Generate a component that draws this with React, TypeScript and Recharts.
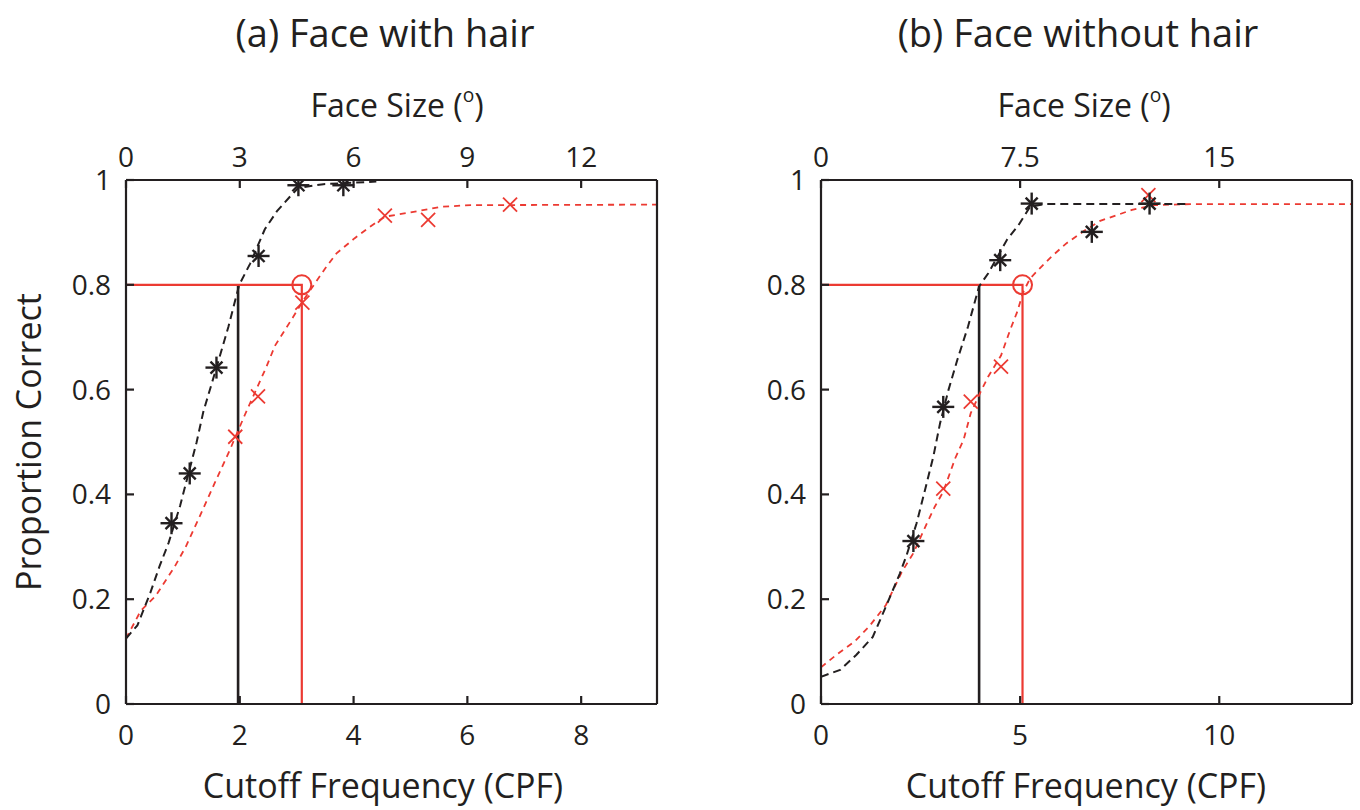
import React from 'react';
import { ComposedChart, Line, Scatter, XAxis, YAxis } from 'recharts';

const INK = '#231f20';
const RED = '#ec3a32';
const FONT = '"Open Sans", "Noto Sans", sans-serif';

// shared y axis
const yTicks = [0, 0.2, 0.4, 0.6, 0.8, 1];

// ---------- Panel (a) Face with hair ----------
const hairCpfTicks = [0, 2, 4, 6, 8];
const hairCpfMax = 9.333;
const hairFaceTicks = [0, 3, 6, 9, 12];
const hairFaceMax = 14;

const hairBlackPoints = [
  { x: 0.8, y: 0.345 },
  { x: 1.12, y: 0.44 },
  { x: 1.59, y: 0.642 },
  { x: 2.33, y: 0.855 },
  { x: 3.03, y: 0.99 },
  { x: 3.82, y: 0.99 },
];
const hairRedPoints = [
  { x: 1.92, y: 0.51 },
  { x: 2.32, y: 0.587 },
  { x: 3.1, y: 0.766 },
  { x: 4.55, y: 0.932 },
  { x: 5.31, y: 0.924 },
  { x: 6.75, y: 0.953 },
];
const hairBlackFit = [
  { x: 0, y: 0.125 },
  { x: 0.2, y: 0.15 },
  { x: 0.43, y: 0.213 },
  { x: 0.59, y: 0.263 },
  { x: 0.75, y: 0.308 },
  { x: 0.95, y: 0.378 },
  { x: 1.24, y: 0.499 },
  { x: 1.36, y: 0.558 },
  { x: 1.59, y: 0.642 },
  { x: 1.8, y: 0.72 },
  { x: 1.99, y: 0.8 },
  { x: 2.18, y: 0.84 },
  { x: 2.44, y: 0.906 },
  { x: 2.65, y: 0.94 },
  { x: 2.88, y: 0.968 },
  { x: 3.03, y: 0.985 },
  { x: 3.47, y: 0.992 },
  { x: 4.4, y: 0.997 },
];
const hairRedFit = [
  { x: 0, y: 0.125 },
  { x: 0.26, y: 0.178 },
  { x: 0.52, y: 0.206 },
  { x: 0.85, y: 0.261 },
  { x: 1.05, y: 0.3 },
  { x: 1.3, y: 0.359 },
  { x: 1.56, y: 0.422 },
  { x: 1.83, y: 0.486 },
  { x: 2.09, y: 0.552 },
  { x: 2.47, y: 0.644 },
  { x: 2.62, y: 0.684 },
  { x: 2.94, y: 0.739 },
  { x: 3.12, y: 0.771 },
  { x: 3.5, y: 0.831 },
  { x: 3.7, y: 0.86 },
  { x: 4.02, y: 0.889 },
  { x: 4.29, y: 0.911 },
  { x: 4.55, y: 0.93 },
  { x: 4.94, y: 0.937 },
  { x: 5.54, y: 0.949 },
  { x: 6.06, y: 0.952 },
  { x: 9.333, y: 0.953 },
];
const hairBlackThreshold = [
  { x: 1.97, y: 0 },
  { x: 1.97, y: 0.8 },
];
const hairRedThreshold = [
  { x: 0, y: 0.8 },
  { x: 3.09, y: 0.8 },
  { x: 3.09, y: 0 },
];
const hairRedCircle = [{ x: 3.09, y: 0.8 }];

// ---------- Panel (b) Face without hair ----------
const noHairCpfTicks = [0, 5, 10];
const noHairCpfMax = 13.333;
const noHairFaceTicks = [0, 7.5, 15];
const noHairFaceMax = 20;

const noHairBlackPoints = [
  { x: 2.32, y: 0.311 },
  { x: 3.07, y: 0.567 },
  { x: 4.5, y: 0.847 },
  { x: 5.29, y: 0.955 },
  { x: 6.8, y: 0.901 },
  { x: 8.25, y: 0.955 },
];
const noHairRedPoints = [
  { x: 3.07, y: 0.411 },
  { x: 3.76, y: 0.577 },
  { x: 4.52, y: 0.644 },
  { x: 8.22, y: 0.971 },
];
const noHairBlackFit = [
  { x: 0, y: 0.052 },
  { x: 0.48, y: 0.065 },
  { x: 0.89, y: 0.094 },
  { x: 1.3, y: 0.128 },
  { x: 1.63, y: 0.186 },
  { x: 1.98, y: 0.249 },
  { x: 2.15, y: 0.284 },
  { x: 2.4, y: 0.345 },
  { x: 2.61, y: 0.408 },
  { x: 2.82, y: 0.472 },
  { x: 2.99, y: 0.536 },
  { x: 3.2, y: 0.599 },
  { x: 3.42, y: 0.656 },
  { x: 3.69, y: 0.72 },
  { x: 3.97, y: 0.797 },
  { x: 4.2, y: 0.822 },
  { x: 4.67, y: 0.886 },
  { x: 4.96, y: 0.914 },
  { x: 5.25, y: 0.949 },
  { x: 5.6, y: 0.954 },
  { x: 9.2, y: 0.954 },
];
const noHairRedFit = [
  { x: 0, y: 0.07 },
  { x: 0.39, y: 0.094 },
  { x: 0.84, y: 0.119 },
  { x: 1.21, y: 0.148 },
  { x: 1.63, y: 0.189 },
  { x: 2.03, y: 0.252 },
  { x: 2.32, y: 0.288 },
  { x: 2.66, y: 0.345 },
  { x: 2.86, y: 0.377 },
  { x: 3.07, y: 0.405 },
  { x: 3.37, y: 0.469 },
  { x: 3.58, y: 0.504 },
  { x: 3.76, y: 0.555 },
  { x: 3.99, y: 0.593 },
  { x: 4.2, y: 0.625 },
  { x: 4.52, y: 0.665 },
  { x: 4.75, y: 0.714 },
  { x: 4.93, y: 0.749 },
  { x: 5.07, y: 0.785 },
  { x: 5.25, y: 0.812 },
  { x: 5.5, y: 0.832 },
  { x: 5.79, y: 0.854 },
  { x: 6.16, y: 0.879 },
  { x: 6.59, y: 0.902 },
  { x: 7.01, y: 0.922 },
  { x: 7.43, y: 0.933 },
  { x: 7.81, y: 0.943 },
  { x: 8.36, y: 0.952 },
  { x: 9.28, y: 0.954 },
  { x: 13.333, y: 0.954 },
];
const noHairBlackThreshold = [
  { x: 3.97, y: 0 },
  { x: 3.97, y: 0.8 },
];
const noHairRedThreshold = [
  { x: 0, y: 0.8 },
  { x: 5.06, y: 0.8 },
  { x: 5.06, y: 0 },
];
const noHairRedCircle = [{ x: 5.06, y: 0.8 }];

// ---------- text ----------
const titleA = '(a) Face with hair';
const titleB = '(b) Face without hair';
const topAxisLabel = 'Face Size (';
const bottomAxisLabel = 'Cutoff Frequency (CPF)';
const yAxisLabel = 'Proportion Correct';

// ---------- marker shapes ----------
const Asterisk = (props: any) => {
  const { cx, cy } = props;
  if (cx == null || cy == null) return <g />;
  const a = 11;
  const d = 6;
  return (
    <g stroke={INK} strokeWidth={2.4}>
      <line x1={cx - a} y1={cy} x2={cx + a} y2={cy} />
      <line x1={cx} y1={cy - a} x2={cx} y2={cy + a} />
      <line x1={cx - d} y1={cy - d} x2={cx + d} y2={cy + d} />
      <line x1={cx - d} y1={cy + d} x2={cx + d} y2={cy - d} />
    </g>
  );
};

const Cross = (props: any) => {
  const { cx, cy } = props;
  if (cx == null || cy == null) return <g />;
  const d = 7;
  return (
    <g stroke={RED} strokeWidth={1.8}>
      <line x1={cx - d} y1={cy - d} x2={cx + d} y2={cy + d} />
      <line x1={cx - d} y1={cy + d} x2={cx + d} y2={cy - d} />
    </g>
  );
};

const Ring = (props: any) => {
  const { cx, cy } = props;
  if (cx == null || cy == null) return <g />;
  return <circle cx={cx} cy={cy} r={9.5} fill="none" stroke={RED} strokeWidth={2} />;
};

const axisStyle = { stroke: INK, strokeWidth: 2.2 };
const tickText = { fill: INK, fontSize: 28, fontFamily: FONT };

type PanelProps = {
  left: number;
  width: number;
  margin: { top: number; right: number; bottom: number; left: number };
  cpfMax: number;
  cpfTicks: number[];
  faceMax: number;
  faceTicks: number[];
  blackFit: { x: number; y: number }[];
  redFit: { x: number; y: number }[];
  blackPts: { x: number; y: number }[];
  redPts: { x: number; y: number }[];
  blackThr: { x: number; y: number }[];
  redThr: { x: number; y: number }[];
  circle: { x: number; y: number }[];
};

function Panel(p: PanelProps) {
  return (
    <div style={{ position: 'absolute', left: p.left, top: 0, width: p.width, height: 810 }}>
      <ComposedChart width={p.width} height={810} margin={p.margin}>
        <XAxis
          xAxisId="cpf"
          dataKey="x"
          type="number"
          orientation="bottom"
          domain={[0, p.cpfMax]}
          ticks={p.cpfTicks}
          allowDataOverflow
          interval={0}
          height={60}
          tickSize={-8}
          tickMargin={29}
          axisLine={axisStyle}
          tickLine={axisStyle}
          tick={tickText}
        />
        <XAxis
          xAxisId="face"
          dataKey="x"
          type="number"
          orientation="top"
          domain={[0, p.faceMax]}
          ticks={p.faceTicks}
          allowDataOverflow
          interval={0}
          height={60}
          tickSize={-8}
          tickMargin={21}
          axisLine={axisStyle}
          tickLine={axisStyle}
          tick={tickText}
        />
        <YAxis
          yAxisId="p"
          dataKey="y"
          type="number"
          domain={[0, 1]}
          ticks={yTicks}
          allowDataOverflow
          interval={0}
          width={60}
          tickSize={-8}
          tickMargin={23}
          axisLine={axisStyle}
          tickLine={axisStyle}
          tick={tickText}
        />
        <YAxis
          yAxisId="pr"
          orientation="right"
          dataKey="y"
          type="number"
          domain={[0, 1]}
          ticks={yTicks}
          allowDataOverflow
          interval={0}
          width={5}
          tickSize={-8}
          axisLine={axisStyle}
          tickLine={axisStyle}
          tick={false}
        />
        <Line
          xAxisId="cpf"
          yAxisId="p"
          data={p.blackThr}
          dataKey="y"
          stroke={INK}
          strokeWidth={2.6}
          dot={false}
          isAnimationActive={false}
        />
        <Line
          xAxisId="cpf"
          yAxisId="p"
          data={p.redThr}
          dataKey="y"
          stroke={RED}
          strokeWidth={2.2}
          dot={false}
          isAnimationActive={false}
        />
        <Line
          xAxisId="cpf"
          yAxisId="p"
          data={p.redFit}
          dataKey="y"
          type="linear"
          stroke={RED}
          strokeWidth={1.8}
          strokeDasharray="6 5"
          dot={false}
          isAnimationActive={false}
        />
        <Line
          xAxisId="cpf"
          yAxisId="p"
          data={p.blackFit}
          dataKey="y"
          type="linear"
          stroke={INK}
          strokeWidth={2}
          strokeDasharray="8 5"
          dot={false}
          isAnimationActive={false}
        />
        <Scatter xAxisId="cpf" yAxisId="p" data={p.redPts} dataKey="y" shape={Cross} isAnimationActive={false} />
        <Scatter xAxisId="cpf" yAxisId="p" data={p.blackPts} dataKey="y" shape={Asterisk} isAnimationActive={false} />
        <Scatter xAxisId="cpf" yAxisId="p" data={p.circle} dataKey="y" shape={Ring} isAnimationActive={false} />
      </ComposedChart>
    </div>
  );
}

const centered = (x: number, y: number, size: number): React.CSSProperties => ({
  position: 'absolute',
  left: x,
  top: y,
  transform: 'translate(-50%, -50%)',
  fontSize: size,
  lineHeight: 1,
  whiteSpace: 'nowrap',
  color: INK,
  fontFamily: FONT,
});

function FaceSizeLabel({ x }: { x: number }) {
  return (
    <div style={centered(x, 103, 32)}>
      {topAxisLabel}
      <span style={{ fontSize: '0.6em', verticalAlign: '0.75em' }}>o</span>)
    </div>
  );
}

export default function App() {
  return (
    <div
      style={{
        position: 'absolute',
        left: 0,
        top: 0,
        width: 1360,
        height: 810,
        background: '#ffffff',
        fontFamily: FONT,
        overflow: 'hidden',
      }}
    >
      <Panel
        left={0}
        width={680}
        margin={{ top: 120, right: 18, bottom: 46, left: 66 }}
        cpfMax={hairCpfMax}
        cpfTicks={hairCpfTicks}
        faceMax={hairFaceMax}
        faceTicks={hairFaceTicks}
        blackFit={hairBlackFit}
        redFit={hairRedFit}
        blackPts={hairBlackPoints}
        redPts={hairRedPoints}
        blackThr={hairBlackThreshold}
        redThr={hairRedThreshold}
        circle={hairRedCircle}
      />
      <Panel
        left={680}
        width={680}
        margin={{ top: 120, right: 3, bottom: 46, left: 81 }}
        cpfMax={noHairCpfMax}
        cpfTicks={noHairCpfTicks}
        faceMax={noHairFaceMax}
        faceTicks={noHairFaceTicks}
        blackFit={noHairBlackFit}
        redFit={noHairRedFit}
        blackPts={noHairBlackPoints}
        redPts={noHairRedPoints}
        blackThr={noHairBlackThreshold}
        redThr={noHairRedThreshold}
        circle={noHairRedCircle}
      />
      <div style={centered(385, 32, 38)}>{titleA}</div>
      <div style={centered(1078, 32, 38)}>{titleB}</div>
      <FaceSizeLabel x={397} />
      <FaceSizeLabel x={1084} />
      <div style={centered(383, 785, 34)}>{bottomAxisLabel}</div>
      <div style={centered(1086, 785, 34)}>{bottomAxisLabel}</div>
      <div style={{ ...centered(28, 442, 34), transform: 'translate(-50%, -50%) rotate(-90deg)' }}>{yAxisLabel}</div>
    </div>
  );
}
